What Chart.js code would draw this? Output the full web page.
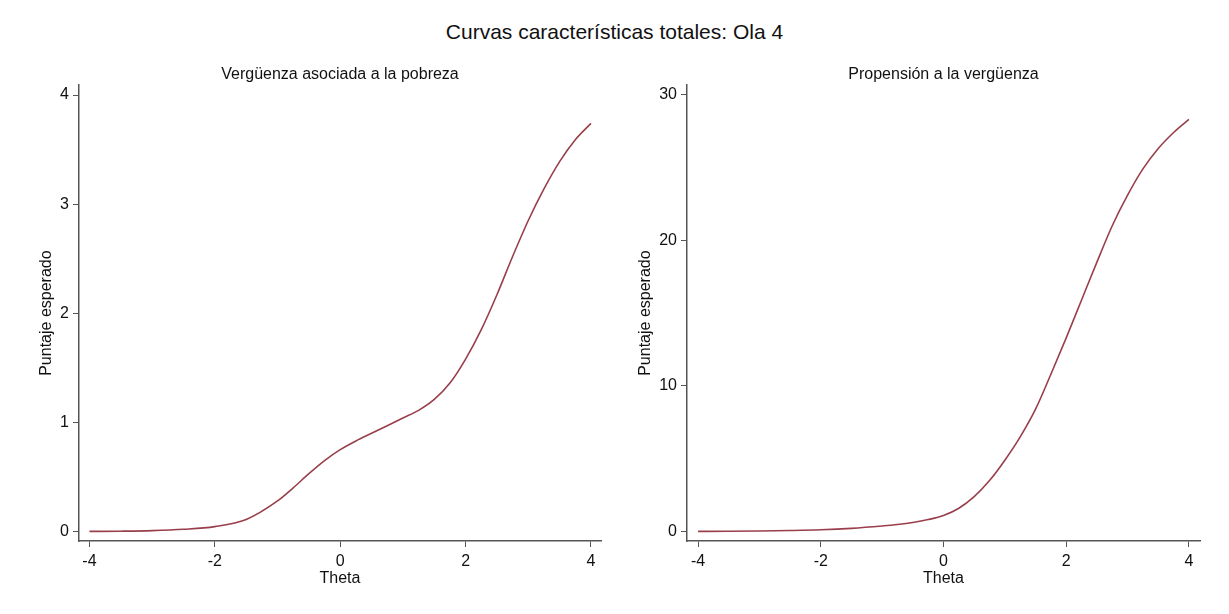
<!DOCTYPE html>
<html>
<head>
<meta charset="utf-8">
<script src="https://cdn.jsdelivr.net/npm/chart.js@4"></script>
<style>
  html, body { margin: 0; padding: 0; background: #fff; }
  body { width: 1229px; height: 614px; position: relative; overflow: hidden; font-family: "Liberation Sans", Arial, sans-serif; }
  #mainTitle { position: absolute; left: 0; width: 1229px; top: 20px; text-align: center; font-size: 21px; color: #111; }
  .wrap { position: absolute; top: 0; height: 614px; }
</style>
</head>
<body>
<div id="mainTitle">Curvas características totales: Ola 4</div>
<div class="wrap" style="left:0;width:614px;"><canvas id="c1"></canvas></div>
<div class="wrap" style="left:614px;width:615px;"><canvas id="c2"></canvas></div>
<script>
// Data
const theta = [-4, -3.5, -3, -2.5, -2, -1.5, -1, -0.75, -0.5, -0.25, 0, 0.25, 0.5, 0.75, 1, 1.25, 1.5, 1.75, 2, 2.25, 2.5, 2.75, 3, 3.25, 3.5, 3.75, 4];
const verguenzaPobreza = [0.001, 0.003, 0.008, 0.02, 0.045, 0.11, 0.28, 0.40, 0.53, 0.65, 0.75, 0.83, 0.90, 0.97, 1.04, 1.11, 1.21, 1.36, 1.58, 1.85, 2.17, 2.52, 2.85, 3.14, 3.39, 3.59, 3.74];
const propensionVerguenza = [0.01, 0.02, 0.04, 0.07, 0.12, 0.22, 0.38, 0.48, 0.62, 0.82, 1.1, 1.6, 2.4, 3.5, 4.9, 6.5, 8.4, 10.8, 13.3, 15.9, 18.5, 21.0, 23.1, 24.9, 26.3, 27.4, 28.3];
const xTicks = [-4, -2, 0, 2, 4];
const yTicksLeft = [0, 1, 2, 3, 4];
const yTicksRight = [0, 10, 20, 30];

const FONT = "'Liberation Sans', Arial, sans-serif";
const LINE_COLOR = '#993f4b';
const AXIS_COLOR = '#555555';

function makeChart(id, title, values, yTicks, cfg) {
  const pts = theta.map((t, i) => ({x: t, y: values[i]}));
  return new Chart(document.getElementById(id), {
    type: 'line',
    data: { datasets: [{ data: pts, borderColor: LINE_COLOR, borderWidth: 1.6, pointRadius: 0, cubicInterpolationMode: 'monotone', fill: false }] },
    options: {
      responsive: true,
      maintainAspectRatio: false,
      animation: false,
      events: [],
      layout: { padding: { top: cfg.padTop, left: cfg.padLeft, right: cfg.padRight, bottom: cfg.padBottom } },
      plugins: {
        legend: { display: false },
        tooltip: { enabled: false },
        title: { display: true, fullSize: false, text: title, color: '#111', font: { family: FONT, size: 16, weight: 'normal' }, padding: { top: 0, bottom: cfg.titleGap } }
      },
      scales: {
        x: {
          type: 'linear', min: cfg.xMin, max: cfg.xMax,
          afterBuildTicks: s => { s.ticks = xTicks.map(v => ({value: v})); },
          afterFit: s => { s.height = cfg.xHeight; },
          grid: { display: true, drawOnChartArea: false, drawTicks: true, tickLength: 6, color: AXIS_COLOR, lineWidth: 1 },
          border: { display: true, color: AXIS_COLOR, width: 1.5 },
          ticks: { color: '#111', font: { family: FONT, size: 16 }, padding: 5, maxRotation: 0, autoSkip: false },
          title: { display: true, text: 'Theta', color: '#111', font: { family: FONT, size: 16 }, padding: { top: 0, bottom: 0 } }
        },
        y: {
          type: 'linear', min: cfg.yMin, max: cfg.yMax,
          afterBuildTicks: s => { s.ticks = yTicks.map(v => ({value: v})); },
          afterFit: s => { s.width = cfg.yWidth; },
          grid: { display: true, drawOnChartArea: false, drawTicks: true, tickLength: 6, color: AXIS_COLOR, lineWidth: 1 },
          border: { display: true, color: AXIS_COLOR, width: 1.5 },
          ticks: { color: '#111', font: { family: FONT, size: 16 }, padding: 4, autoSkip: false },
          title: { display: true, text: 'Puntaje esperado', color: '#111', font: { family: FONT, size: 16 }, padding: { top: 0, bottom: 0 } }
        }
      }
    }
  });
}

makeChart('c1', 'Vergüenza asociada a la pobreza', verguenzaPobreza, yTicksLeft, {
  padTop: 65, padLeft: 37, padRight: 13, padBottom: 26, titleGap: 1,
  yWidth: 42, xHeight: 47,
  xMin: -4.167, xMax: 4.16, yMin: -0.087, yMax: 4.09
});
makeChart('c2', 'Propensión a la vergüenza', propensionVerguenza, yTicksRight, {
  padTop: 65, padLeft: 22, padRight: 29, padBottom: 26, titleGap: 1,
  yWidth: 51, xHeight: 47,
  xMin: -4.18, xMax: 4.18, yMin: -0.65, yMax: 30.65
});
</script>
</body>
</html>
